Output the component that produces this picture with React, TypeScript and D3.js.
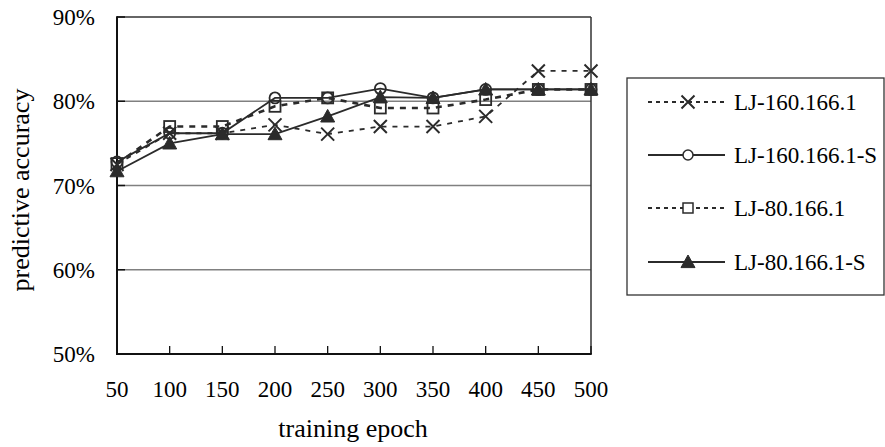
import React from "react";
import * as d3 from "d3";

const epochs = [50, 100, 150, 200, 250, 300, 350, 400, 450, 500];
const lj160 = [72.5, 76.2, 76.2, 77.2, 76.1, 77.0, 77.0, 78.2, 83.6, 83.6];
const lj160S = [72.8, 76.2, 76.2, 80.4, 80.4, 81.5, 80.4, 81.4, 81.4, 81.4];
const lj80 = [72.6, 77.0, 77.0, 79.4, 80.4, 79.2, 79.2, 80.2, 81.4, 81.4];
const lj80S = [71.7, 75.0, 76.1, 76.1, 78.2, 80.5, 80.4, 81.4, 81.4, 81.4];
const yTicks = [50, 60, 70, 80, 90];
const seriesNames = ["LJ-160.166.1", "LJ-160.166.1-S", "LJ-80.166.1", "LJ-80.166.1-S"];

const W = 885, H = 447;
const L = 117, R = 591, T = 17, B = 354;
const FONT = "Liberation Serif, Times New Roman, DejaVu Serif, serif";
const INK = "#2b2b2b";
const txt = { fontFamily: FONT };

type Series = { name: string; values: number[]; dash: string; width: number; marker: string };

const series: Series[] = [
  { name: seriesNames[0], values: lj160, dash: "5,6", width: 1.8, marker: "x" },
  { name: seriesNames[1], values: lj160S, dash: "", width: 1.8, marker: "circle" },
  { name: seriesNames[2], values: lj80, dash: "6,6", width: 2.6, marker: "square" },
  { name: seriesNames[3], values: lj80S, dash: "", width: 1.8, marker: "triangle" },
];

function Marker({ type, x, y }: { type: string; x: number; y: number }) {
  if (type === "x") {
    const s = 6.5;
    return (
      <path d={`M${x - s},${y - s}L${x + s},${y + s}M${x - s},${y + s}L${x + s},${y - s}`} stroke={INK} strokeWidth={2} fill="none" />
    );
  }
  if (type === "circle") {
    return <circle cx={x} cy={y} r={5.5} fill="none" stroke={INK} strokeWidth={1.8} />;
  }
  if (type === "square") {
    return <rect x={x - 5.5} y={y - 5.5} width={11} height={11} fill="none" stroke={INK} strokeWidth={1.8} />;
  }
  const s = 7;
  return <path d={`M${x},${y - s}L${x + s},${y + s * 0.8}L${x - s},${y + s * 0.8}Z`} fill={INK} stroke={INK} strokeWidth={1} />;
}

export default function App() {
  const x = d3.scalePoint<number>().domain(epochs).range([L, R]);
  const y = d3.scaleLinear().domain([50, 90]).range([B, T]);
  const line = d3
    .line<number>()
    .x((_, i) => x(epochs[i]) as number)
    .y((d) => y(d));

  const legX1 = 648, legX2 = 725, legMid = 688, legText = 734;
  const legRows = [102, 155, 208, 262];

  return (
    <svg width={W} height={H} style={{ position: "absolute", left: 0, top: 0, background: "#fff", fontFamily: FONT }}>
      <rect x={0} y={0} width={W} height={H} fill="#fff" />
      {yTicks.filter((t) => t !== 50 && t !== 90).map((t) => (
        <line key={t} x1={L} x2={R} y1={y(t)} y2={y(t)} stroke="#808080" strokeWidth={1.5} />
      ))}
      <line x1={L} x2={R} y1={T} y2={T} stroke="#333" strokeWidth={1.5} />
      <line x1={R} x2={R} y1={T} y2={B} stroke="#333" strokeWidth={1.5} />
      {yTicks.map((t) => (
        <line key={"yt" + t} x1={L} x2={L + 8} y1={y(t)} y2={y(t)} stroke="#111" strokeWidth={1.5} />
      ))}
      {epochs.map((e) => (
        <line key={"xt" + e} x1={x(e)} x2={x(e)} y1={B} y2={B - 8} stroke="#111" strokeWidth={1.3} />
      ))}
      <line x1={L} x2={L} y1={T - 0.75} y2={B + 1} stroke="#111" strokeWidth={2} />
      <line x1={L - 1} x2={R + 0.75} y1={B} y2={B} stroke="#111" strokeWidth={2} />
      {series.map((s) => (
        <path key={s.name} d={line(s.values) || ""} fill="none" stroke={INK} strokeWidth={s.width} strokeDasharray={s.dash || undefined} />
      ))}
      {series.map((s) =>
        s.values.map((v, i) => <Marker key={s.name + i} type={s.marker} x={x(epochs[i]) as number} y={y(v)} />)
      )}
      {yTicks.map((t) => (
        <text key={"yl" + t} x={95} y={y(t)} dy="0.35em" textAnchor="end" fontSize={23} fill="#000" style={txt}>
          {t + "%"}
        </text>
      ))}
      {epochs.map((e) => (
        <text key={"xl" + e} x={x(e)} y={397} textAnchor="middle" fontSize={23} fill="#000" style={txt}>
          {e}
        </text>
      ))}
      <text x={353} y={437} textAnchor="middle" fontSize={26} fill="#000" style={txt}>training epoch</text>
      <text transform={`translate(29,190) rotate(-90)`} textAnchor="middle" fontSize={26} fill="#000" style={txt}>predictive accuracy</text>
      <rect x={627} y={78} width={257} height={217} fill="#fff" stroke="#333" strokeWidth={1.3} />
      {series.map((s, i) => (
        <g key={"lg" + s.name}>
          <line x1={legX1} x2={legX2} y1={legRows[i]} y2={legRows[i]} stroke={INK} strokeWidth={s.dash ? 2 : 1.8} strokeDasharray={s.dash ? "4,4" : undefined} />
          {s.marker === "circle" ? (
            <circle cx={legMid} cy={legRows[i]} r={5} fill="#fff" stroke={INK} strokeWidth={1.5} />
          ) : s.marker === "square" ? (
            <rect x={legMid - 5} y={legRows[i] - 5} width={10} height={10} fill="#fff" stroke={INK} strokeWidth={1.5} />
          ) : (
            <Marker type={s.marker} x={legMid} y={legRows[i]} />
          )}
          <text x={legText} y={legRows[i]} dy="0.35em" fontSize={23} fill="#000" style={txt}>{s.name}</text>
        </g>
      ))}
    </svg>
  );
}
